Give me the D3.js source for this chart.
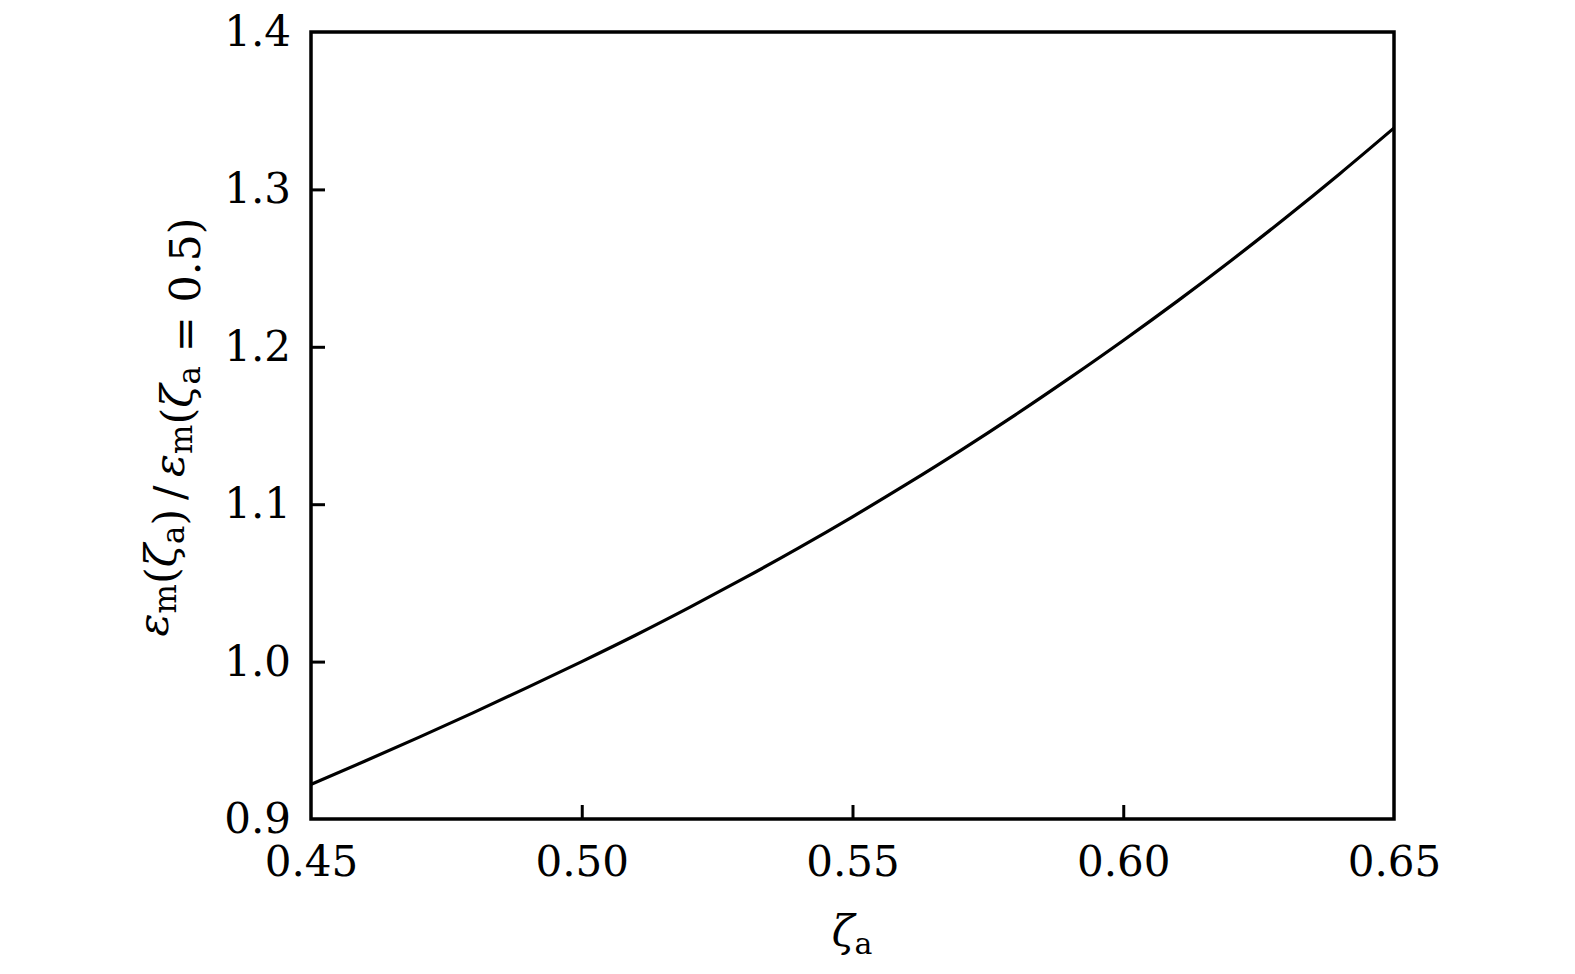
<!DOCTYPE html>
<html lang="en">
<head>
  <meta charset="utf-8">
  <title>Ratio curve</title>
  <style>
    body { margin: 0; background: #fff; }
    svg text { font-family: "DejaVu Serif", "Liberation Serif", serif; fill: #000; }
    .tick text { font-size: 42px; }
  </style>
</head>
<body>
  <div id="chart"></div>
  <script src="https://d3js.org/d3.v7.min.js"></script>
  <script>
    // values
    var zeta = [0.45, 0.46, 0.47, 0.48, 0.49, 0.50, 0.51, 0.52, 0.53, 0.54, 0.55,
                0.56, 0.57, 0.58, 0.59, 0.60, 0.61, 0.62, 0.63, 0.64, 0.65];
    var ratio = [0.9220, 0.9368, 0.9520, 0.9676, 0.9836, 1.0000, 1.0169, 1.0346, 1.0530, 1.0721, 1.0920,
                 1.1127, 1.1342, 1.1566, 1.1799, 1.2040, 1.2290, 1.2550, 1.2820, 1.3100, 1.3390];
    var xTicks = [0.45, 0.50, 0.55, 0.60, 0.65];
    var yTicks = [0.9, 1.0, 1.1, 1.2, 1.3, 1.4];

    var W = 1575, H = 974;
    var margin = { top: 32, right: 181, bottom: 155, left: 311 },
        width = W - margin.left - margin.right,
        height = H - margin.top - margin.bottom;

    var x = d3.scaleLinear().domain([0.45, 0.65]).range([0, width]);
    var y = d3.scaleLinear().domain([0.9, 1.4]).range([height, 0]);

    var svg = d3.select("#chart").append("svg")
        .attr("width", W)
        .attr("height", H);
    var g = svg.append("g")
        .attr("transform", "translate(" + margin.left + "," + margin.top + ")");

    var xAxis = g.append("g")
        .attr("transform", "translate(0," + height + ")")
        .call(d3.axisBottom(x).tickValues(xTicks).tickSize(-14).tickPadding(27)
          .tickFormat(d3.format(".2f")));
    var yAxis = g.append("g")
        .call(d3.axisLeft(y).tickValues(yTicks).tickSize(-14).tickPadding(20)
          .tickFormat(d3.format(".1f")));

    [xAxis, yAxis].forEach(function(a) {
      a.select(".domain").remove();
      a.selectAll("line").attr("stroke", "#000").attr("stroke-width", 3);
    });
    xAxis.selectAll("text").attr("dy", "0.71em");
    xAxis.selectAll(".tick").filter(function(d) { return d === 0.45 || d === 0.65; })
        .select("line").remove();
    yAxis.selectAll(".tick").filter(function(d) { return d === 0.9 || d === 1.4; })
        .select("line").remove();

    g.append("rect")
        .attr("width", width)
        .attr("height", height)
        .attr("fill", "none")
        .attr("stroke", "#000")
        .attr("stroke-width", 3.5);

    var line = d3.line()
        .x(function(d, i) { return x(zeta[i]); })
        .y(function(d) { return y(d); })
        .curve(d3.curveMonotoneX);

    g.append("path")
        .datum(ratio)
        .attr("fill", "none")
        .attr("stroke", "#000")
        .attr("stroke-width", 3.2)
        .attr("d", line);

    // x label
    var xl = svg.append("text")
        .attr("x", 852)
        .attr("y", 946)
        .attr("text-anchor", "middle")
        .attr("font-size", 42);
    xl.append("tspan").attr("font-style", "italic").text("ζ");
    xl.append("tspan").attr("font-size", 30).attr("dy", 8).text("a");

    // y label
    var yl = svg.append("text")
        .attr("transform", "translate(168," + 427 + ") rotate(-90)")
        .attr("text-anchor", "middle")
        .attr("font-size", 43);
    function sub(s) {
      yl.append("tspan").attr("font-size", 31).attr("dy", 8).text(s);
      yl.append("tspan").attr("dy", -8).text("");
    }
    yl.append("tspan").attr("font-style", "italic").text("ε");
    sub("m");
    yl.append("tspan").text("(");
    yl.append("tspan").attr("font-style", "italic").text("ζ");
    sub("a");
    yl.append("tspan").text(")\u2009/\u2009");
    yl.append("tspan").attr("font-style", "italic").text("ε");
    sub("m");
    yl.append("tspan").text("(");
    yl.append("tspan").attr("font-style", "italic").text("ζ");
    sub("a");
    yl.append("tspan").text(" = 0.5)");
  </script>
</body>
</html>
